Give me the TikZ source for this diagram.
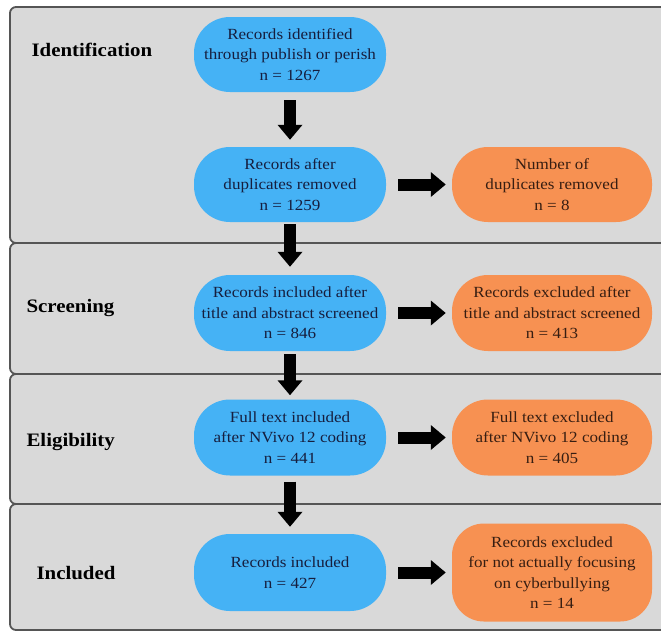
\documentclass[tikz,border=0pt]{standalone}
\usepackage{fontspec}
\setmainfont{Liberation Serif}[FakeStretch=1.1]
\usetikzlibrary{arrows.meta,positioning}
\definecolor{panelgray}{RGB}{217,217,217}
\definecolor{panelline}{RGB}{85,85,85}
\definecolor{boxblue}{RGB}{69,178,245}
\definecolor{boxorange}{RGB}{247,145,82}
\definecolor{bluetext}{RGB}{22,30,62}
\definecolor{orangetext}{RGB}{55,30,18}
\tikzset{
  panel/.style={fill=panelgray, draw=panelline, line width=1.8pt, rounded corners=6pt},
  stagelabel/.style={font=\fontsize{19}{22}\selectfont\bfseries, anchor=west, text=black},
  bluebox/.style={fill=boxblue, draw=none, rounded corners=36pt, minimum width=192pt, minimum height=76pt,
    align=center, text=bluetext, font=\fontsize{15.5}{20.5}\selectfont, inner sep=0pt},
  orangebox/.style={fill=boxorange, draw=none, rounded corners=36pt, minimum width=200pt, minimum height=76pt,
    align=center, text=orangetext, font=\fontsize{15.5}{20.5}\selectfont, inner sep=0pt},
  blockarrow/.style={draw=black, line width=12pt, -{Triangle[length=15pt,width=24pt]}},
}
\begin{document}
\begin{tikzpicture}[x=1pt,y=-1pt]
\useasboundingbox (0,0) rectangle (661,633);
\fill[white] (0,0) rectangle (661,633);
% panels
\draw[panel] (10,7) rectangle (680,243);
\draw[panel] (10,243) rectangle (680,374);
\draw[panel] (10,374) rectangle (680,504);
\draw[panel] (10,504) rectangle (680,630);
% stage labels
\node[stagelabel] (l1) at (28,50) {Identification};
\node[stagelabel] (l2) at (23,308) {Screening};
\node[stagelabel] (l3) at (23,442) {Eligibility};
\node[stagelabel] (l4) at (33,573) {Included};
% blue boxes
\node[bluebox, minimum height=75pt] (b1) at (290,54.5) {Records identified\\through publish or perish\\n = 1267};
\node[bluebox, minimum height=75pt] (b2) at (290,184.5) {Records after\\duplicates removed\\n = 1259};
\node[bluebox] (b3) at (290,313) {Records included after\\title and abstract screened\\n = 846};
\node[bluebox] (b4) at (290,437.5) {Full text included\\after NVivo 12 coding\\n = 441};
\node[bluebox, minimum height=77pt] (b5) at (290,572.5) {Records included\\n = 427};
% orange boxes
\node[orangebox, minimum height=75pt] (o1) at (552,184.5) {Number of\\duplicates removed\\n = 8};
\node[orangebox] (o2) at (552,313) {Records excluded after\\title and abstract screened\\n = 413};
\node[orangebox] (o3) at (552,437.5) {Full text excluded\\after NVivo 12 coding\\n = 405};
\node[orangebox, minimum height=98pt, rounded corners=32pt] (o4) at (552,572.5) {Records excluded\\for not actually focusing\\on cyberbullying\\n = 14};
% down arrows
\draw[blockarrow, shorten <=8pt, shorten >=7pt] (b1.south) -- (b2.north);
\draw[blockarrow, shorten <=2pt, shorten >=8pt] (b2.south) -- (b3.north);
\draw[blockarrow, shorten <=3pt, shorten >=4pt] (b3.south) -- (b4.north);
\draw[blockarrow, shorten <=6pt, shorten >=7pt] (b4.south) -- (b5.north);
% right arrows
\draw[blockarrow, shorten <=12pt, shorten >=6pt] (b2.east) -- (o1.west);
\draw[blockarrow, shorten <=12pt, shorten >=6pt] (b3.east) -- (o2.west);
\draw[blockarrow, shorten <=12pt, shorten >=6pt] (b4.east) -- (o3.west);
\draw[blockarrow, shorten <=12pt, shorten >=6pt] (b5.east) -- (o4.west);
\end{tikzpicture}
\end{document}
